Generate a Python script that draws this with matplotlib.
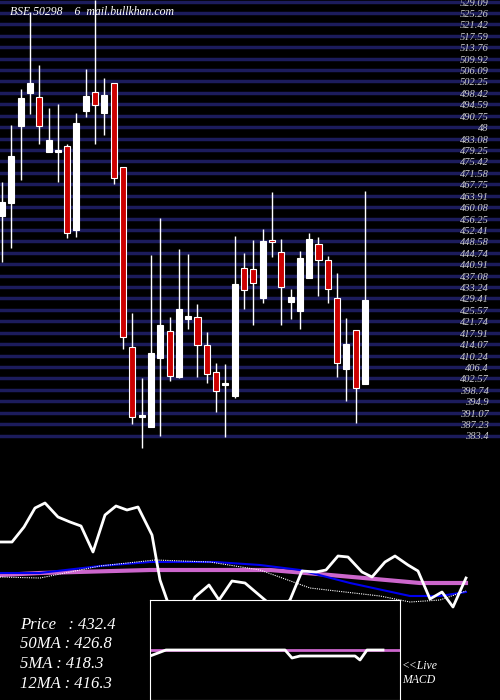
import matplotlib
matplotlib.use("Agg")
import matplotlib.pyplot as plt
import numpy as np

opens  = [457.6,461.9,487.8,498.9,497.5,479.1,479.1,481.1,452.9,492.8,499.2,492.2,502.2,474.0,413.6,390.2,386.8,409.9,419.0,403.5,
          423.0,423.7,414.3,405.2,401.0,397.2,440.1,439.8,430.1,449.5,445.5,428.7,425.7,436.8,448.2,442.8,430.1,406.2,419.3,401.2]
closes = [462.3,477.7,497.2,502.2,487.8,483.1,479.4,451.9,488.8,497.9,494.8,498.2,470.3,417.0,390.1,390.6,411.6,421.0,403.9,426.4,
          424.0,414.3,404.6,398.8,401.4,434.8,432.7,435.1,449.2,448.9,433.8,430.4,443.5,449.9,442.8,433.1,408.2,414.6,399.8,429.4]
highs  = [469.0,488.1,500.2,526.1,508.3,493.8,495.2,481.8,492.2,506.9,530.1,503.9,502.2,474.0,425.0,403.2,444.5,456.9,423.7,446.5,
          444.8,428.0,418.6,408.2,407.9,450.9,445.2,449.5,453.2,465.6,449.9,433.1,445.9,451.9,450.5,444.2,438.5,423.4,419.3,466.0]
lows   = [442.1,446.8,469.7,491.8,481.8,479.1,469.0,450.2,450.5,490.8,481.8,484.8,468.3,412.9,387.8,379.7,386.8,383.7,402.2,403.2,
          419.7,403.5,401.5,391.8,383.4,396.5,426.4,421.0,428.4,443.8,421.0,423.0,419.7,436.8,430.7,428.4,403.5,395.5,388.1,401.2]

price_labels = ["529.09","525.26","521.42","517.59","513.76","509.92","506.09","502.25","498.42","494.59","490.75","48",
                "483.08","479.25","475.42","471.58","467.75","463.91","460.08","456.25","452.41","448.58","444.74","440.91",
                "437.08","433.24","429.41","425.57","421.74","417.91","414.07","410.24","406.4","402.57","398.74","394.9",
                "391.07","387.23","383.4"]

# oscillator panel (values in oscillator units)
osc_x   = [0,12,24,35,45,58,70,81,93,105,116,127,138,152,160,167,175,185,195,209,219,232,245,265,277,290,302,316,326,338,348,362,372,385,395,408,418,430,442,453,466]
osc_w   = [38,38,53,72,77,63,58,54,28,65,74,70,73,45,0,-20,-40,-40,-17,-5,-20,-1,-3,-20,-30,-20,9,8,10,24,23,8,3,18,24,15,9,-19,-12,-27,2]
blue_x  = [0,40,100,150,215,260,300,350,410,440,466]
blue_v  = [7,7,14,18,18,15,10,-3,-16,-16,-12]
mag_x   = [0,40,150,270,330,420,466]
mag_v   = [5,7,10,10,5,-3,-3]
dot_x   = [0,40,100,155,210,260,310,380,410,440,466]
dot_v   = [3,2,14,20,18,10,-8,-16,-22,-20,-11]
macd_x  = [150,166,285,292,300,355,360,367,383]
macd_v  = [-6,0,0,-8,-6,-6,-10,0,0]

fig = plt.figure(figsize=(5,7), dpi=100, facecolor="black")
ax = fig.add_axes([0,0,1,1], facecolor="black")
ax.set_xlim(-0.215, 53.5)
ax.set_ylim(530.1-0.3357*700, 530.1)
ax.axis("off")

step = (529.09-383.4)/38
for k, lab in enumerate(price_labels):
    p = 529.09 - k*step
    ax.axhline(p+0.5, color="#1c1c5c", lw=2.5, zorder=1)
    ax.text(52.3, p, lab, color="#cccccc", fontsize=7.5, family="Liberation Serif",
            style="italic", ha="right", va="center", zorder=2)

for i,(o,c,h,l) in enumerate(zip(opens,closes,highs,lows)):
    up = c >= o
    ax.vlines(i, l, h, color="white", lw=1, zorder=3)
    col = "white" if up else "#cc0000"
    ax.bar(i, max(abs(c-o),0.5), bottom=min(o,c), width=0.65, color=col,
           edgecolor="white", linewidth=0.8, zorder=4)

ax.text(0.02, 0.983, "BSE 50298    6  mail.bullkhan.com", transform=ax.transAxes, color="white",
        fontsize=8.5, family="Liberation Serif", style="italic", va="center")

# lower panel
ax2 = fig.add_axes([0,0,1,0.3], facecolor="none")
ax2.set_xlim(0,500)
ax2.set_ylim(-120,90)
ax2.axis("off")
ax2.plot(mag_x, mag_v, color="#cc66cc", lw=3, zorder=2)
ax2.plot(blue_x, blue_v, color="#0000ee", lw=1.5, zorder=3)
ax2.plot(dot_x, dot_v, color="white", lw=0.8, ls=(0,(1,1)), zorder=3)
ax2.plot(osc_x, osc_w, color="white", lw=2, zorder=4)

ax3 = fig.add_axes([150/500, 0, 250/500, 100/700], facecolor="black", zorder=5)
ax3.set_xlim(150,400); ax3.set_ylim(-50,50)
ax3.set_xticks([]); ax3.set_yticks([])
for s in ax3.spines.values(): s.set_color("white")
ax3.axhline(0, color="#cc66cc", lw=2)
ax3.plot(macd_x, macd_v, color="white", lw=2)

fs = dict(color="white", fontsize=12, family="Liberation Serif", style="italic")
for j, t in enumerate(["Price   : 432.4", "50MA : 426.8", "5MA : 418.3", "12MA : 416.3"]):
    fig.text(20/500, 1-(625+j*19.5)/700, t, va="center", **fs)
fig.text(402/500, 1-666/700, "<<Live", color="white", fontsize=8.5, family="Liberation Serif", style="italic", va="center")
fig.text(402/500, 1-680/700, "MACD", color="white", fontsize=8.5, family="Liberation Serif", style="italic", va="center")

fig.savefig("out.png", dpi=100, facecolor="black")
